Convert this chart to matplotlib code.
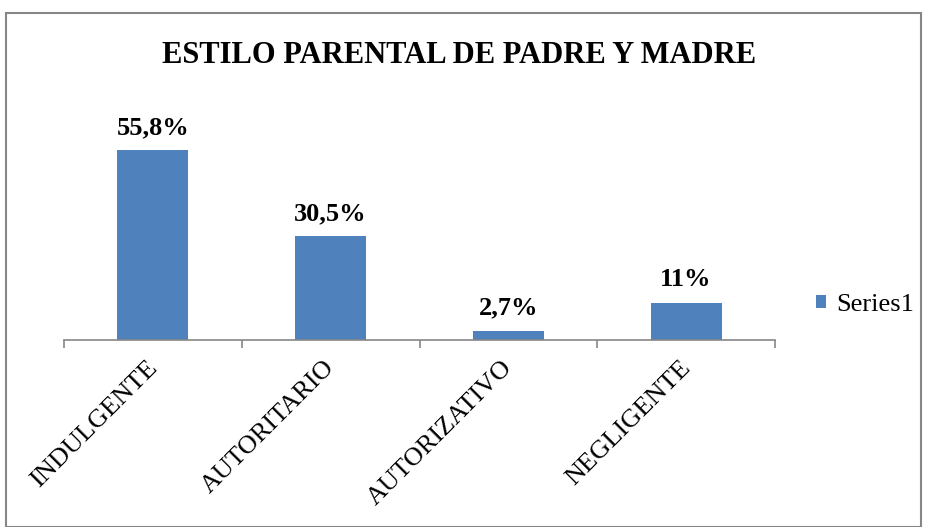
import matplotlib
matplotlib.use("Agg")
import matplotlib.pyplot as plt
import matplotlib.transforms as mtransforms
from matplotlib.patches import Rectangle

categories = ["INDULGENTE", "AUTORITARIO", "AUTORIZATIVO", "NEGLIGENTE"]
values = [55.8, 30.5, 2.7, 11.0]
labels = ["55,8%", "30,5%", "2,7%", "11%"]
title = "ESTILO PARENTAL DE PADRE Y MADRE"
series_name = "Series1"

plt.rcParams['font.family'] = ['Liberation Serif', 'DejaVu Serif']

fig = plt.figure(figsize=(9.25, 5.27), dpi=100)
ax = fig.add_axes([64/925, 1-340/527, (775-64)/925, 204/527])

bar_color = "#4F81BD"
x = list(range(len(categories)))
bars = ax.bar(x, values, width=0.4, color=bar_color, label=series_name, zorder=2)

ax.set_xlim(-0.5, len(categories) - 0.5)
ax.set_ylim(0, 60)

for b, lab in zip(bars, labels):
    ax.annotate(lab, (b.get_x() + b.get_width()/2, b.get_height()),
                xytext=(0, 8), textcoords="offset points",
                ha="center", va="bottom", fontsize=19, fontweight="bold")

for s in ["top", "right", "left"]:
    ax.spines[s].set_visible(False)
ax.spines["bottom"].set_color("#868686")
ax.spines["bottom"].set_linewidth(1.2)
ax.set_yticks([])

ax.set_xticks(x)
ax.set_xticklabels(categories, rotation=45, ha="right", va="top",
                   rotation_mode="anchor", fontsize=19)
ax.tick_params(axis="x", which="major", length=0, pad=12)
offset = mtransforms.ScaledTranslation(-7/100, 0, fig.dpi_scale_trans)
for lbl in ax.get_xticklabels():
    lbl.set_transform(lbl.get_transform() + offset)
ax.set_xticks([i - 0.5 for i in range(len(categories) + 1)], minor=True)
ax.tick_params(axis="x", which="minor", length=6, color="#868686", width=1.2)

fig.text(459/925, 1-56/527, title, ha="center", va="center",
         fontsize=22, fontweight="bold")

leg = fig.legend(handles=[bars], labels=[series_name], loc="center left",
                 bbox_to_anchor=(805/925, 1-305/527), frameon=False,
                 fontsize=19, handlelength=0.4, handleheight=0.4,
                 handletextpad=0.38, borderaxespad=0)

fig.patches.append(Rectangle((6/925, 0), (921-6)/925, 1-13/527,
                             transform=fig.transFigure, fill=False,
                             edgecolor="#868686", linewidth=1.5))

fig.savefig("out.png", dpi=100)
